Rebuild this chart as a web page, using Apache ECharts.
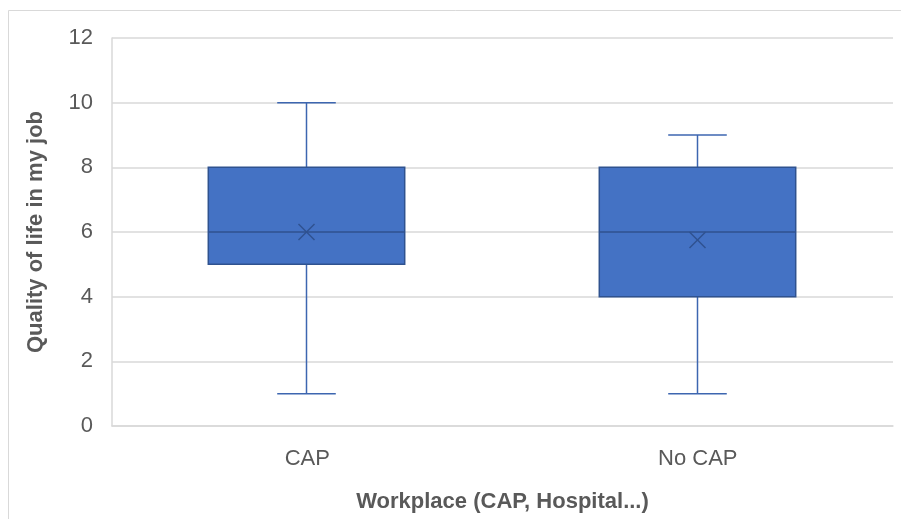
<!DOCTYPE html>
<html>
<head>
<meta charset="utf-8">
<script src="https://cdn.jsdelivr.net/npm/echarts@6/dist/echarts.min.js"></script>
<style>
  html, body { margin: 0; padding: 0; background: #fff; }
  #chart { width: 901px; height: 519px; }
</style>
</head>
<body>
<div id="chart"></div>
<script>
// Workplace groups and their five-number summaries plus mean
const categories = ['CAP', 'No CAP'];
const minValues = [1, 1];
const q1Values = [5, 4];
const medianValues = [6, 6];
const q3Values = [8, 8];
const maxValues = [10, 9];
const meanValues = [6.0, 5.75];
const yTicks = [0, 2, 4, 6, 8, 10, 12];

const boxData = categories.map((c, i) => [
  i, minValues[i], q1Values[i], medianValues[i], q3Values[i], maxValues[i], meanValues[i]
]);

const FILL = '#4472C4';
const EDGE = '#2F528F';
const WHISKER = '#3D66B0';

function renderBox(params, api) {
  const x = api.value(0);
  const band = api.size([1, 0])[0];
  const boxW = band * 0.503;
  const capW = band * 0.15;
  const pMin = api.coord([x, api.value(1)]);
  const pQ1 = api.coord([x, api.value(2)]);
  const pMed = api.coord([x, api.value(3)]);
  const pQ3 = api.coord([x, api.value(4)]);
  const pMax = api.coord([x, api.value(5)]);
  const pMean = api.coord([x, api.value(6)]);
  const cx = Math.round(pQ1[0]) - 0.5;
  const r = 8;
  const lineStyle = { stroke: WHISKER, lineWidth: 1.5 };
  return {
    type: 'group',
    children: [
      { type: 'line', shape: { x1: cx, y1: pMax[1], x2: cx, y2: pQ3[1] }, style: lineStyle },
      { type: 'line', shape: { x1: cx - capW / 2, y1: pMax[1], x2: cx + capW / 2, y2: pMax[1] }, style: lineStyle },
      { type: 'line', shape: { x1: cx, y1: pQ1[1], x2: cx, y2: pMin[1] }, style: lineStyle },
      { type: 'line', shape: { x1: cx - capW / 2, y1: pMin[1], x2: cx + capW / 2, y2: pMin[1] }, style: lineStyle },
      {
        type: 'rect',
        shape: { x: cx - boxW / 2, y: pQ3[1], width: boxW, height: pQ1[1] - pQ3[1] },
        style: { fill: FILL, stroke: EDGE, lineWidth: 1.5 }
      },
      { type: 'line', shape: { x1: cx - boxW / 2, y1: pMed[1], x2: cx + boxW / 2, y2: pMed[1] }, style: { stroke: EDGE, lineWidth: 1.5 } },
      { type: 'line', shape: { x1: cx - r, y1: pMean[1] - r, x2: cx + r, y2: pMean[1] + r }, style: { stroke: EDGE, lineWidth: 1.5 } },
      { type: 'line', shape: { x1: cx - r, y1: pMean[1] + r, x2: cx + r, y2: pMean[1] - r }, style: { stroke: EDGE, lineWidth: 1.5 } }
    ]
  };
}

const textFont = { fontFamily: 'Liberation Sans', fontSize: 22, color: '#595959' };

const chart = echarts.init(document.getElementById('chart'), null, { renderer: 'canvas' });
chart.setOption({
  animation: false,
  backgroundColor: '#ffffff',
  graphic: [{
    type: 'rect',
    shape: { x: 8.5, y: 10.5, width: 900, height: 520 },
    style: { fill: 'none', stroke: '#d9d9d9', lineWidth: 1 },
    silent: true
  }],
  grid: { left: 112, right: 8, top: 38, bottom: 93, containLabel: false, outerBoundsMode: 'none' },
  xAxis: {
    type: 'category',
    data: categories,
    name: 'Workplace (CAP, Hospital...)',
    nameLocation: 'middle',
    nameGap: 65,
    nameTextStyle: Object.assign({}, textFont, { fontWeight: 'bold' }),
    axisLine: { show: true, lineStyle: { color: '#d9d9d9', width: 1.5 } },
    axisTick: { show: false },
    axisLabel: Object.assign({}, textFont, { margin: 22 }),
    splitLine: { show: false }
  },
  yAxis: {
    type: 'value',
    min: yTicks[0],
    max: yTicks[yTicks.length - 1],
    interval: 2,
    name: 'Quality of life in my job',
    nameLocation: 'middle',
    nameGap: 65,
    nameTextStyle: Object.assign({}, textFont, { fontWeight: 'bold' }),
    axisLine: { show: true, lineStyle: { color: '#d9d9d9', width: 1.5 } },
    axisTick: { show: false },
    axisLabel: Object.assign({}, textFont, { margin: 19 }),
    splitLine: { show: true, lineStyle: { color: '#d9d9d9', width: 1.5 } }
  },
  series: [{
    type: 'custom',
    renderItem: renderBox,
    encode: { x: 0, y: [1, 2, 3, 4, 5, 6] },
    data: boxData,
    z: 5
  }]
});
</script>
</body>
</html>
